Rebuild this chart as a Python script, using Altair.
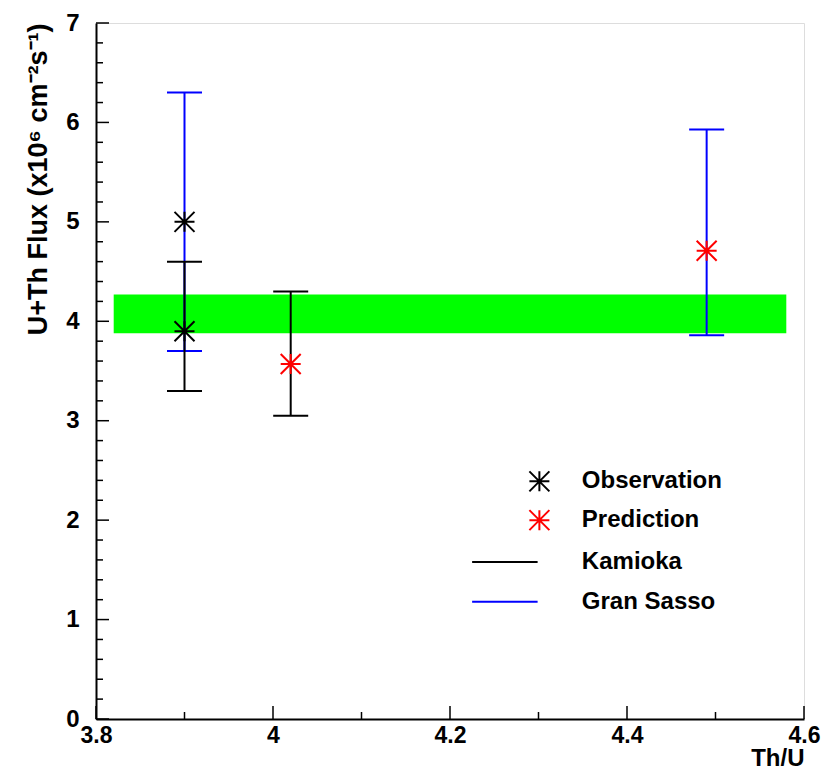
import altair as alt
import pandas as pd

# ---- data ----
series = ["Observation", "Observation", "Prediction", "Prediction"]
site = ["Kamioka", "Gran Sasso", "Kamioka", "Gran Sasso"]
th_u = [3.90, 3.90, 4.02, 4.49]
flux = [3.90, 5.00, 3.57, 4.71]
flux_lo = [3.30, 3.70, 3.05, 3.86]
flux_hi = [4.60, 6.30, 4.30, 5.93]

band_x = [3.82, 4.58]
band_y = [3.88, 4.27]

legend_labels = ["Observation", "Prediction", "Kamioka", "Gran Sasso"]

y_major = [0, 1, 2, 3, 4, 5, 6, 7]
y_minor = [round(i * 0.2, 1) for i in range(36) if i % 5 != 0]
x_major = [3.8, 4.0, 4.2, 4.4, 4.6]
x_minor = [3.9, 4.1, 4.3, 4.5]

# ---- styling / layout ----
FONT = "Liberation Sans"
W, H = 708, 696
SITE_COL = {"Kamioka": "#000000", "Gran Sasso": "#0000ff"}
SER_COL = {"Observation": "#000000", "Prediction": "#ff0000"}
STAR = "M-1,-1L1,1M-1,1L1,-1M-1,0L1,0M0,-1L0,1"

df = pd.DataFrame(dict(series=series, site=site, x=th_u, y=flux, lo=flux_lo, hi=flux_hi))
df["scol"] = df.site.map(SITE_COL)
df["pcol"] = df.series.map(SER_COL)

xs = alt.Scale(domain=[3.8, 4.6], nice=False, zero=False)
ys = alt.Scale(domain=[0, 7], nice=False, zero=False)

xaxis = alt.Axis(values=x_major, format=".1~f", ticks=False, tickSize=0, grid=False,
                 labelFont=FONT, labelFontWeight="bold", labelFontSize=23, labelColor="black",
                 labelPadding=5, labelFlush=False, domainColor="black", domainWidth=2,
                 title="Th/U", titleFont=FONT, titleFontWeight="bold", titleFontSize=24,
                 titleAnchor="end", titleBaseline="bottom", titleY=51, titleColor="black")
yaxis = alt.Axis(values=y_major, format="d", ticks=False, tickSize=0, grid=False,
                 labelFont=FONT, labelFontWeight="bold", labelFontSize=24, labelColor="black",
                 labelPadding=17, labelFlush=False, domainColor="black", domainWidth=2,
                 title="U+Th Flux (x10⁶ cm⁻²s⁻¹)", titleFont=FONT, titleFontWeight="bold",
                 titleFontSize=27, titleAnchor="end", titlePadding=13, titleColor="black")

X = alt.X("x:Q", scale=xs, axis=xaxis)
Y = alt.Y("y:Q", scale=ys, axis=yaxis)

band = alt.Chart(pd.DataFrame(dict(x=[band_x[0]], x2=[band_x[1]], y=[band_y[0]], y2=[band_y[1]]))).mark_rect(
    color="#00ff00").encode(x=X, x2="x2:Q", y=Y, y2="y2:Q")

def bars(which):
    d = df[df.site == which]
    base = alt.Chart(d)
    c = alt.Color("scol:N", scale=None)
    v = base.mark_rule(strokeWidth=2).encode(x=X, y=alt.Y("lo:Q", scale=ys, axis=yaxis), y2="hi:Q", color=c)
    top = base.mark_rule(strokeWidth=2, xOffset=-17.5, x2Offset=17.5).encode(
        x=X, x2="x:Q", y=alt.Y("hi:Q", scale=ys, axis=yaxis), color=c)
    bot = base.mark_rule(strokeWidth=2, xOffset=-17.5, x2Offset=17.5).encode(
        x=X, x2="x:Q", y=alt.Y("lo:Q", scale=ys, axis=yaxis), color=c)
    return v + top + bot

pts = alt.Chart(df).mark_point(shape=STAR, size=400, filled=False, strokeWidth=2, opacity=1).encode(
    x=X, y=Y, color=alt.Color("pcol:N", scale=None))

# ---- ticks (inward, ROOT style) ----
ymaj = alt.Chart(pd.DataFrame(dict(t=y_major))).mark_rule(color="black", strokeWidth=1.5).encode(
    y=alt.Y("t:Q", scale=ys, axis=yaxis), x=alt.value(0), x2=alt.value(13))
ymin = alt.Chart(pd.DataFrame(dict(t=y_minor))).mark_rule(color="black", strokeWidth=1.5).encode(
    y=alt.Y("t:Q", scale=ys, axis=yaxis), x=alt.value(0), x2=alt.value(7))
xmaj = alt.Chart(pd.DataFrame(dict(t=x_major))).mark_rule(color="black", strokeWidth=1.5).encode(
    x=alt.X("t:Q", scale=xs, axis=xaxis), y=alt.value(H), y2=alt.value(H - 13))
xmin = alt.Chart(pd.DataFrame(dict(t=x_minor))).mark_rule(color="black", strokeWidth=1.5).encode(
    x=alt.X("t:Q", scale=xs, axis=xaxis), y=alt.value(H), y2=alt.value(H - 7))

# ---- legend (drawn in data coordinates) ----
leg_y = [2.39, 2.00, 1.58, 1.18]
leg = pd.DataFrame(dict(label=legend_labels, y=leg_y,
                        pcol=[SER_COL["Observation"], SER_COL["Prediction"], None, None],
                        scol=[None, None, SITE_COL["Kamioka"], SITE_COL["Gran Sasso"]],
                        mx=[4.301] * 4, lx1=[4.225] * 4, lx2=[4.299] * 4, tx=[4.349] * 4))
leg_pts = alt.Chart(leg.iloc[:2]).mark_point(shape=STAR, size=400, filled=False, strokeWidth=2, opacity=1).encode(
    x=alt.X("mx:Q", scale=xs, axis=xaxis), y=alt.Y("y:Q", scale=ys, axis=yaxis),
    color=alt.Color("pcol:N", scale=None))
leg_lines = alt.Chart(leg.iloc[2:]).mark_rule(strokeWidth=2).encode(
    x=alt.X("lx1:Q", scale=xs, axis=xaxis), x2="lx2:Q", y=alt.Y("y:Q", scale=ys, axis=yaxis),
    color=alt.Color("scol:N", scale=None))
leg_text = alt.Chart(leg).mark_text(align="left", baseline="middle", font=FONT, fontWeight="bold",
                                    fontSize=24, color="black").encode(
    x=alt.X("tx:Q", scale=xs, axis=xaxis), y=alt.Y("y:Q", scale=ys, axis=yaxis), text="label:N")

chart = alt.layer(
    band, bars("Gran Sasso"), bars("Kamioka"), pts,
    ymaj, ymin, xmaj, xmin,
    leg_pts, leg_lines, leg_text,
).properties(
    width=W, height=H,
    autosize=alt.AutoSizeParams(type="none"),
    padding={"left": 88, "top": 15, "right": 17, "bottom": 51},
).configure_view(stroke="black", strokeWidth=1.5).configure(background="white")

chart.save("out.html", embed_options={"renderer": "svg", "actions": False})
